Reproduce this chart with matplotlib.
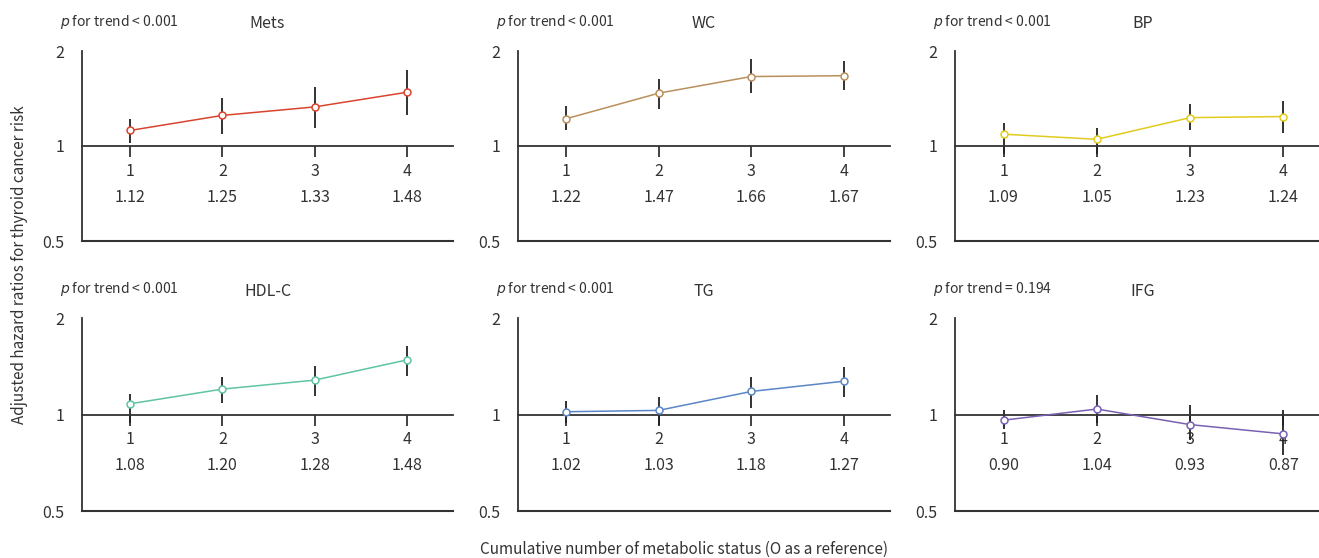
import matplotlib as mpl
import matplotlib.pyplot as plt
import numpy as np

mpl.use("Agg")
plt.rcParams["font.family"] = ["Noto Sans CJK KR", "DejaVu Sans"]

# metabolic status count
status = [1, 2, 3, 4]

panels = ["Mets", "WC", "BP", "HDL-C", "TG", "IFG"]
p_trend = ["< 0.001", "< 0.001", "< 0.001", "< 0.001", "< 0.001", "= 0.194"]
colors = ["#d8442e", "#b98f5c", "#e0cc1c", "#5ec5a0", "#5a86c6", "#7a60b4"]

# hazard ratios as plotted
hr_mets = [1.12, 1.25, 1.33, 1.48]
hr_wc = [1.22, 1.47, 1.66, 1.67]
hr_bp = [1.09, 1.05, 1.23, 1.24]
hr_hdl = [1.08, 1.20, 1.28, 1.48]
hr_tg = [1.02, 1.03, 1.18, 1.27]
hr_ifg = [0.96, 1.04, 0.93, 0.87]

# 95% CI (lower, upper)
lo_mets = [1.02, 1.09, 1.14, 1.25]
hi_mets = [1.22, 1.42, 1.54, 1.74]
lo_wc = [1.12, 1.31, 1.47, 1.50]
hi_wc = [1.34, 1.63, 1.88, 1.86]
lo_bp = [0.94, 0.94, 1.12, 1.10]
hi_bp = [1.18, 1.14, 1.36, 1.39]
lo_hdl = [0.94, 1.09, 1.14, 1.32]
hi_hdl = [1.16, 1.31, 1.42, 1.64]
lo_tg = [0.94, 0.93, 1.05, 1.13]
hi_tg = [1.10, 1.13, 1.31, 1.41]
lo_ifg = [0.90, 0.94, 0.83, 0.75]
hi_ifg = [1.03, 1.15, 1.07, 1.03]

# printed values under the ticks
txt_mets = ["1.12", "1.25", "1.33", "1.48"]
txt_wc = ["1.22", "1.47", "1.66", "1.67"]
txt_bp = ["1.09", "1.05", "1.23", "1.24"]
txt_hdl = ["1.08", "1.20", "1.28", "1.48"]
txt_tg = ["1.02", "1.03", "1.18", "1.27"]
txt_ifg = ["0.90", "1.04", "0.93", "0.87"]

hrs = [hr_mets, hr_wc, hr_bp, hr_hdl, hr_tg, hr_ifg]
los = [lo_mets, lo_wc, lo_bp, lo_hdl, lo_tg, lo_ifg]
his = [hi_mets, hi_wc, hi_bp, hi_hdl, hi_tg, hi_ifg]
txts = [txt_mets, txt_wc, txt_bp, txt_hdl, txt_tg, txt_ifg]

W, H = 1319, 558
fig = plt.figure(figsize=(W / 100, H / 100), dpi=100)

# axes boxes in pixels: left, top, right, bottom
cols = [(82, 453), (518, 890), (955, 1330)]
rows = [(51, 241), (318, 511)]

ink = "#333333"

for i, name in enumerate(panels):
    r, c = divmod(i, 3)
    x0, x1 = cols[c]
    y0, y1 = rows[r]
    ax = fig.add_axes([x0 / W, 1 - y1 / H, (x1 - x0) / W, (y1 - y0) / H])
    ax.set_yscale("log")
    ax.set_ylim(0.5, 2)
    ax.set_xlim(0.48, 4.5)

    hr = np.array(hrs[i])
    err = np.array([hr - np.array(los[i]), np.array(his[i]) - hr])
    ax.errorbar(status, hr, yerr=err, fmt="none", ecolor="#222222",
                elinewidth=1.3, capsize=0, zorder=2)
    ax.plot(status, hr, color=colors[i], lw=1.1, marker="o", ms=5,
            mfc="white", mec=colors[i], mew=1.1, zorder=3)

    for s in ["top", "right"]:
        ax.spines[s].set_visible(False)
    ax.spines["left"].set_color(ink)
    ax.spines["left"].set_linewidth(1.3)
    ax.spines["bottom"].set_position(("data", 1))
    ax.spines["bottom"].set_color(ink)
    ax.spines["bottom"].set_linewidth(1.3)
    ax.axhline(0.5, color=ink, lw=1.5, clip_on=False)

    ax.set_xticks(status)
    ax.set_xticklabels([str(s) for s in status])
    ax.tick_params(axis="x", direction="out", length=8, width=1.3,
                   color=ink, pad=4, labelsize=11.5, labelcolor=ink)
    ax.set_yticks([0.5, 1, 2])
    ax.set_yticklabels(["0.5", "1", "2"])
    ax.yaxis.set_minor_locator(mpl.ticker.NullLocator())
    ax.tick_params(axis="y", length=0, pad=13, labelsize=11.5, labelcolor=ink)

    for s, t in zip(status, txts[i]):
        ax.annotate(t, (s, 1), xytext=(0, -51), textcoords="offset pixels",
                    ha="center", va="center", fontsize=11.5, color=ink)

    ax.annotate(name, (0.5, 1), xycoords="axes fraction", xytext=(0, 27),
                textcoords="offset pixels", ha="center", va="center",
                fontsize=11.5, color=ink)
    ax.annotate("$\\it{p}$ for trend " + p_trend[i], (0, 1),
                xycoords="axes fraction", xytext=(-22, 29),
                textcoords="offset pixels", ha="left", va="center",
                fontsize=10, color=ink)

fig.text(20 / W, 1 - 265 / H, "Adjusted hazard ratios for thyroid cancer risk",
         rotation=90, ha="center", va="center", fontsize=11, color=ink)
fig.text(684 / W, 1 - 549 / H,
         "Cumulative number of metabolic status (O as a reference)",
         ha="center", va="center", fontsize=11, color=ink)

plt.savefig("out.png", dpi=100)
